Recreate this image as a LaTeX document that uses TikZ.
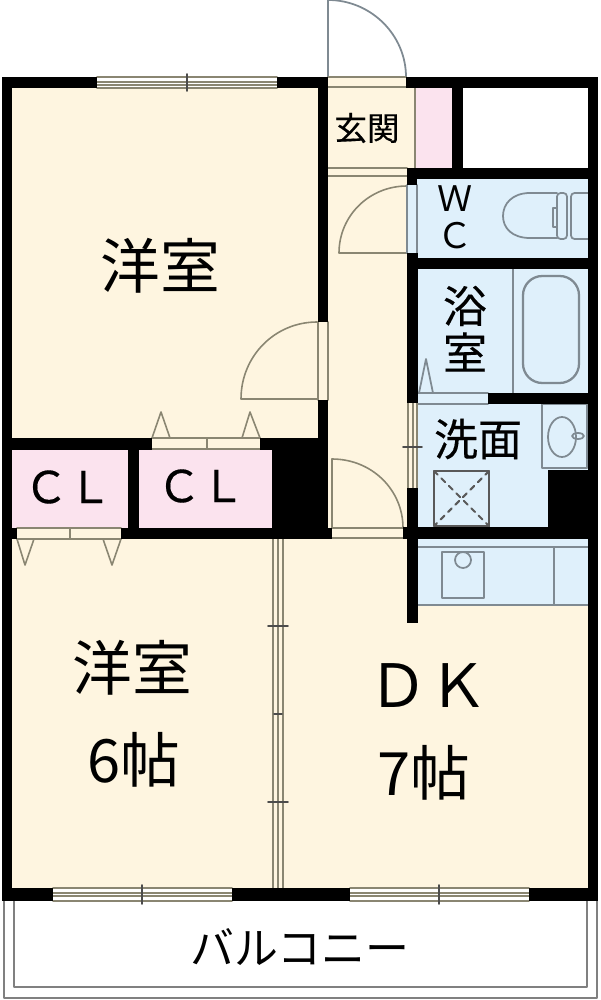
\documentclass[tikz,border=0pt]{standalone}
\usepackage{fontspec}
\setmainfont{Noto Sans CJK JP}
\newfontfamily\futoi[FakeBold=0.35]{Noto Sans CJK JP}
\definecolor{yuka}{HTML}{FEF5E0}
\definecolor{mizu}{HTML}{DFF0FB}
\definecolor{osi}{HTML}{FBE3EE}
\definecolor{sen}{HTML}{8A8672}
\definecolor{aosen}{HTML}{7F8A92}
\begin{document}
\begin{tikzpicture}[x=0.02cm, y=-0.02cm, line join=round, line cap=round]
	\tikzset{
		kabe/.style={fill=black},
		ippan/.style={draw=sen, line width=0.9pt},
		aoippan/.style={draw=aosen, line width=1pt},
		big/.style={font=\fontsize{34}{36}\selectfont, inner sep=0pt},
		mid/.style={font=\futoi\fontsize{25}{27}\selectfont, inner sep=0pt},
		small/.style={font=\futoi\fontsize{18.5}{20}\selectfont, inner sep=0pt}
	}
	\useasboundingbox (0,0) rectangle (600,1000);
	% balcony
	\draw[aoippan, draw=gray, line width=1.2pt] (4,901)--(4,998)--(597,998)--(597,901);
	\draw[aoippan, draw=gray, line width=1.2pt] (14,901)--(14,987)--(587,987)--(587,901);
	% floors
	\fill[yuka] (12,88) rectangle (588,888);
	\fill[yuka] (328,77) rectangle (406,88);
	\fill[white] (463,88) rectangle (588,168);
	\fill[osi] (415,88) rectangle (452,168);
	\draw[ippan] (415,88)--(415,168);
	\fill[osi] (12,450) rectangle (128,528);
	\fill[osi] (139,450) rectangle (272,528);
	\fill[mizu] (417,179) rectangle (588,258);
	\fill[mizu] (407,185) rectangle (417,253);
	\fill[mizu] (418,269) rectangle (588,404);
	\fill[mizu] (418,404) rectangle (548,527);
	\fill[mizu] (548,404) rectangle (588,470);
	\fill[mizu] (418,539) rectangle (588,605);
	% door at the entrance
	\draw[aoippan] (328,77)--(328,0) .. controls (371,0) and (406,35) .. (406,77);
	\draw[ippan] (328,77)--(406,77) (328,87)--(406,87);
	\draw[ippan] (328,168)--(407,168) (328,176)--(407,176);
	% doors
	\draw[ippan] (407,186) .. controls (369,186) and (339,216) .. (339,253)--(407,253);
	\draw[aoippan] (407,185)--(407,253) (417,185)--(417,253);
	\draw[ippan] (317,322) .. controls (275,322) and (241,356) .. (241,399)--(317,399);
	\draw[ippan] (318,322)--(318,400) (328,322)--(328,400);
	\draw[ippan] (332,459) .. controls (372,459) and (403,490) .. (403,528);
	\draw[ippan] (332,459)--(332,528)--(403,528) (332,538)--(403,538);
	\draw[aoippan] (419,393)--(426,359)--(433,393);
	\draw[aoippan] (418,393)--(488,393) (418,404)--(488,404);
	% closet doors
	\draw[ippan] (152,438)--(161,412)--(170,438) (242,438)--(250,412)--(260,438);
	\draw[ippan] (152,438)--(260,438) (152,449)--(260,449) (207,438)--(207,449);
	\draw[ippan] (17,539)--(25,565)--(34,539) (103,539)--(112,565)--(121,539);
	\draw[ippan] (17,528)--(121,528) (17,539)--(121,539) (70,528)--(70,539);
	% sliding doors
	\foreach \xs in {273,278,283} \draw[ippan] (\xs,539)--(\xs,888);
	\foreach \ys in {626,802} \draw[ippan, draw=black!70] (268,\ys)--(288,\ys);
	\draw[ippan, draw=black!70] (274,714)--(282,714);
	\foreach \xs in {408,413,417} \draw[ippan] (\xs,403)--(\xs,488);
	\draw[ippan, draw=black!70] (403,447)--(422,447);
	% windows
	\foreach \xa/\xb/\ya/\yb in {97/277/77/88, 53/232/888/901, 350/529/888/901} {
		\draw[ippan] (\xa,\ya)--(\xb,\ya) (\xa,\yb)--(\xb,\yb);
		\draw[ippan] (\xa,{\ya+5})--(\xb,{\ya+5}) (\xa,{\ya+8})--(\xb,{\ya+8});
	}
	\foreach \xs/\ya/\yb in {187/74/91, 142/885/904, 439/885/904} \draw[ippan, draw=black!70] (\xs,\ya)--(\xs,\yb);
	% toilet
	\draw[aoippan] (557,193)--(530,193) .. controls (512,193) and (503,204) .. (503,216) .. controls (503,228) and (512,238) .. (530,238)--(557,238);
	\draw[aoippan, rounded corners=2pt] (557,193)--(567,193)--(567,239)--(557,239)--cycle;
	\draw[aoippan] (557,208)--(553,208)--(553,227)--(557,227);
	\draw[aoippan, rounded corners=2pt] (588,193)--(571,193)--(571,239)--(588,239);
	% bath
	\draw[aoippan] (513,269)--(513,393);
	\draw[aoippan, line width=1.3pt, rounded corners=11pt] (523,276) rectangle (579,383);
	% basin
	\draw[aoippan] (542,404)--(542,468)--(587,468);
	\draw[aoippan] (587,404)--(587,468) (542,404)--(587,404);
	\draw[aoippan] (562,437) ellipse [x radius=14, y radius=20];
	\draw[aoippan] (578,436) ellipse [x radius=6, y radius=3];
	% washing machine
	\draw[aoippan, draw=black!65] (434,471) rectangle (489,526);
	\draw[draw=black!65, line width=1.2pt, dash pattern=on 3pt off 3pt] (434,471)--(489,526) (489,471)--(434,526);
	% kitchen
	\draw[aoippan] (418,547)--(588,547) (418,605)--(588,605) (554,547)--(554,605);
	\draw[aoippan] (442,552) rectangle (484,598);
	\draw[aoippan, fill=mizu] (463,560) circle [radius=8];
	% walls
	\foreach \xa/\ya/\xb/\yb in {2/77/12/901, 2/77/97/88, 277/77/328/88, 318/77/328/322, 318/400/328/538,
		406/77/598/88, 588/77/598/901, 452/77/463/168, 407/168/598/179, 407/168/417/185, 407/253/418/403,
		407/488/418/623, 407/258/598/269, 488/393/598/404, 548/470/598/527, 403/527/598/539,
		12/438/152/450, 260/438/328/450, 272/438/328/538, 128/450/139/528, 121/528/332/539, 2/528/17/539,
		2/888/53/901, 232/888/350/901, 529/888/598/901}
		\fill[kabe] (\xa,\ya) rectangle (\xb,\yb);
	% labels
	\node[big] (yosituA) at (160,266) {洋室};
	\node[big] (yosituB) at (132,668) {洋室};
	\node[big] (rokujo) at (134,760) {6帖};
	\node[big] (dk) at (428,686) {ＤＫ};
	\node[big] (nanajo) at (424,773) {7帖};
	\node[mid, font=\fontsize{25}{27}\selectfont] (balcony) at (300,947) {バルコニー};
	\node[small] (genkan) at (367,128) {玄関};
	\node[mid, font=\fontsize{20}{22}\selectfont] (wcW) at (455,199) {Ｗ};
	\node[mid, font=\fontsize{20}{22}\selectfont] (wcC) at (455,236) {Ｃ};
	\node[mid] (yokuA) at (465,306) {浴};
	\node[mid] (yokuB) at (465,352) {室};
	\node[mid] (senmen) at (478,439) {洗面};
	\node[mid] (clA) at (68,487) {ＣＬ};
	\node[mid] (clB) at (201,486) {ＣＬ};
\end{tikzpicture}
\end{document}
